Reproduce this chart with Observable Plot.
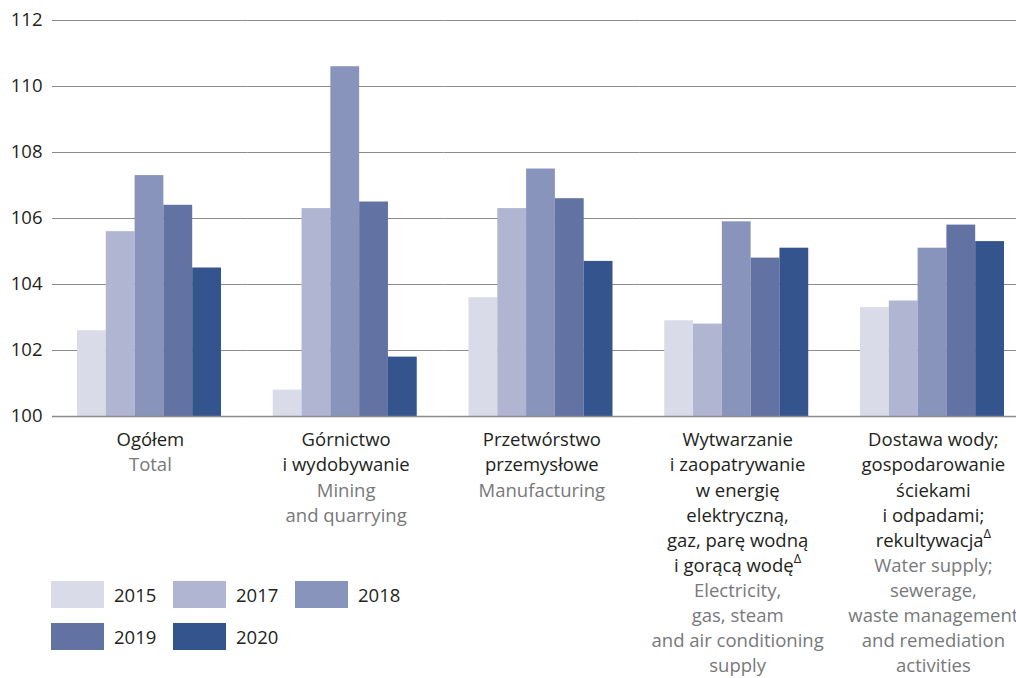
<!DOCTYPE html>
<html>
<head>
<meta charset="utf-8">
<script src="https://cdn.jsdelivr.net/npm/d3@7"></script>
<script src="https://cdn.jsdelivr.net/npm/@observablehq/plot@0.6"></script>
<style>
  html, body { margin: 0; padding: 0; background: #fff; }
  #wrap { position: relative; width: 1016px; height: 678px; overflow: hidden; font-family: "Open Sans", sans-serif; }
  #legend { position: absolute; left: 51px; top: 581px; display: grid; grid-template-columns: repeat(3, 122px); row-gap: 15px; }
  .item { display: flex; align-items: center; height: 27px; }
  .sw { width: 53px; height: 27px; margin-right: 10px; }
  .lab { font-size: 18.5px; color: #231f20; line-height: 27px; }
</style>
</head>
<body>
<div id="wrap"><div id="chart"></div><div id="legend"></div></div>
<script>
// ---- data ----
const sectorsPl = [
  "Ogółem",
  "Górnictwo\ni wydobywanie",
  "Przetwórstwo\nprzemysłowe",
  "Wytwarzanie\ni zaopatrywanie\nw energię\nelektryczną,\ngaz, parę wodną\ni gorącą wodęΔ",
  "Dostawa wody;\ngospodarowanie\nściekami\ni odpadami;\nrekultywacjaΔ"
];
const sectorsEn = [
  "Total",
  "Mining\nand quarrying",
  "Manufacturing",
  "Electricity,\ngas, steam\nand air conditioning\nsupply",
  "Water supply;\nsewerage,\nwaste management\nand remediation\nactivities"
];
const years = ["2015", "2017", "2018", "2019", "2020"];
const values2015 = [102.6, 100.8, 103.6, 102.9, 103.3];
const values2017 = [105.6, 106.3, 106.3, 102.8, 103.5];
const values2018 = [107.3, 110.6, 107.5, 105.9, 105.1];
const values2019 = [106.4, 106.5, 106.6, 104.8, 105.8];
const values2020 = [104.5, 101.8, 104.7, 105.1, 105.3];
const yTicks = [100, 102, 104, 106, 108, 110, 112];
const colors = ["#d9dbe8", "#b0b5d2", "#8994bc", "#6172a3", "#33548d"];

// ---- build table ----
const series = [values2015, values2017, values2018, values2019, values2020];
const rows = [];
sectorsPl.forEach((s, i) => {
  years.forEach((y, j) => rows.push({sector: s, year: y, value: series[j][i]}));
});
const labels = sectorsPl.map((s, i) => ({
  sector: s,
  pl: s,
  en: "\n".repeat(s.split("\n").length) + sectorsEn[i]
}));

const FS = 18.5;
const LH = 1.357;

const chart = Plot.plot({
  width: 1016,
  height: 678,
  marginTop: 20,
  marginBottom: 262,
  marginLeft: 52,
  marginRight: -14.75,
  style: {fontFamily: "'Open Sans', sans-serif", fontSize: FS + "px", color: "#231f20", background: "#fff", overflow: "visible"},
  fx: {domain: sectorsPl, padding: 0, round: false, axis: null, label: null},
  x: {domain: years, paddingInner: 0, paddingOuter: 0.8984, align: 0.483, round: false, axis: null, label: null},
  y: {domain: [100, 112], ticks: yTicks, label: null},
  color: {domain: years, range: colors},
  marks: [
    Plot.gridY(yTicks, {stroke: "#8c8c8c", strokeOpacity: 1, strokeWidth: 1}),
    Plot.axisY(yTicks, {tickSize: 0, tickPadding: 10, fontSize: FS, fill: "#231f20", label: null, tickFormat: d => String(d)}),
    Plot.barY(rows, {fx: "sector", x: "year", y1: 100, y2: "value", fill: "year"}),
    Plot.ruleY([100], {stroke: "#8c8c8c", strokeWidth: 1.5}),
    Plot.text(labels, {fx: "sector", text: "pl", frameAnchor: "bottom", lineAnchor: "top", dy: 12, fontSize: FS, lineHeight: LH, fill: "#231f20"}),
    Plot.text(labels, {fx: "sector", text: "en", frameAnchor: "bottom", lineAnchor: "top", dy: 12, fontSize: FS, lineHeight: LH, fill: "#77787b"})
  ]
});

// superscript delta
chart.querySelectorAll("tspan, text").forEach(el => {
  if (el.children.length === 0 && el.textContent.includes("Δ")) {
    const t = el.textContent;
    el.textContent = t.replace("Δ", "");
    const sup = document.createElementNS("http://www.w3.org/2000/svg", "tspan");
    sup.setAttribute("baseline-shift", "super");
    sup.setAttribute("font-size", "13px");
    sup.textContent = "Δ";
    el.appendChild(sup);
  }
});

document.getElementById("chart").appendChild(chart);

const legend = document.getElementById("legend");
years.forEach((y, i) => {
  const item = document.createElement("div");
  item.className = "item";
  const sw = document.createElement("div");
  sw.className = "sw";
  sw.style.background = colors[i];
  const lab = document.createElement("span");
  lab.className = "lab";
  lab.textContent = y;
  item.appendChild(sw);
  item.appendChild(lab);
  legend.appendChild(item);
});
</script>
</body>
</html>
